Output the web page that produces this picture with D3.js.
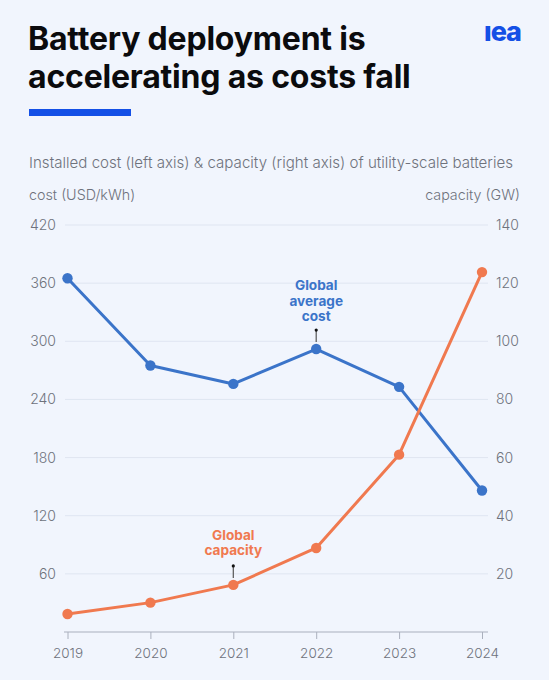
<!DOCTYPE html>
<html>
<head>
<meta charset="utf-8">
<script src="https://cdn.jsdelivr.net/npm/d3@7"></script>
<style>
  html, body { margin: 0; padding: 0; background: #f1f5fd; }
  svg { display: block; font-family: Inter, "Noto Sans", sans-serif; }
</style>
</head>
<body>
<svg id="chart" width="549" height="680"></svg>
<script>
// chart data
const years = [2019, 2020, 2021, 2022, 2023, 2024];
const costUsdPerKwh = [365, 275, 256, 292, 253, 146];
const capacityGw = [6.2, 10.1, 16.2, 28.9, 61, 123.8];
const costTicks = [60, 120, 180, 240, 300, 360, 420];
const capacityTicks = [20, 40, 60, 80, 100, 120, 140];

const blue = '#3b74c9';
const orange = '#f0794f';
const grey = '#6e727c';

const svg = d3.select('#chart');
const margin = { top: 225, right: 61, bottom: 48, left: 65 };
const width = 549 - margin.left - margin.right;
const height = 680 - margin.top - margin.bottom;

// header
svg.append('text')
  .attr('x', 28).attr('y', 50)
  .attr('font-size', 32).attr('font-weight', 700).attr('fill', '#0b0b0d')
  .attr('letter-spacing', -0.2)
  .text('Battery deployment is');
svg.append('text')
  .attr('x', 28).attr('y', 88)
  .attr('font-size', 32).attr('font-weight', 700).attr('fill', '#0b0b0d')
  .attr('letter-spacing', -0.2)
  .text('accelerating as costs fall');
svg.append('rect')
  .attr('x', 29).attr('y', 109).attr('width', 102).attr('height', 7)
  .attr('fill', '#1450e6');
svg.append('text')
  .attr('x', 521).attr('y', 41).attr('text-anchor', 'end')
  .attr('font-size', 27).attr('font-weight', 800).attr('fill', '#1450e6')
  .attr('letter-spacing', -1)
  .text('ıea');

svg.append('text')
  .attr('x', 29).attr('y', 168)
  .attr('font-size', 15.1).attr('font-weight', 300).attr('fill', grey)
  .text('Installed cost (left axis) & capacity (right axis) of utility-scale batteries');
svg.append('text')
  .attr('x', 29).attr('y', 200)
  .attr('font-size', 14.3).attr('font-weight', 300).attr('fill', grey)
  .text('cost (USD/kWh)');
svg.append('text')
  .attr('x', 520).attr('y', 200).attr('text-anchor', 'end')
  .attr('font-size', 14.3).attr('font-weight', 300).attr('fill', grey)
  .text('capacity (GW)');

const g = svg.append('g')
  .attr('transform', `translate(${margin.left},${margin.top})`);

const x = d3.scalePoint()
  .domain(years)
  .range([2.5, width - 6]);

const yCost = d3.scaleLinear()
  .domain([0, 420])
  .range([height, 0]);

const yCap = d3.scaleLinear()
  .domain([0, 140])
  .range([height, 0]);

// gridlines
g.append('g')
  .selectAll('line')
  .data(costTicks)
  .enter().append('line')
  .attr('x1', 0).attr('x2', width)
  .attr('y1', d => yCost(d)).attr('y2', d => yCost(d))
  .attr('stroke', '#dfe5f1').attr('stroke-width', 1);

// left axis labels
g.append('g')
  .selectAll('text')
  .data(costTicks)
  .enter().append('text')
  .attr('x', -9).attr('y', d => yCost(d)).attr('dy', '0.36em')
  .attr('text-anchor', 'end')
  .attr('font-size', 14).attr('font-weight', 300).attr('fill', grey)
  .text(d => d);

// right axis labels
g.append('g')
  .selectAll('text')
  .data(capacityTicks)
  .enter().append('text')
  .attr('x', width + 8).attr('y', d => yCap(d)).attr('dy', '0.36em')
  .attr('font-size', 14).attr('font-weight', 300).attr('fill', grey)
  .text(d => d);

// x axis
const xAxis = g.append('g')
  .attr('transform', `translate(0,${height})`)
  .call(d3.axisBottom(x).tickSize(7).tickPadding(9).tickSizeOuter(0));
xAxis.select('.domain')
  .attr('d', `M-1,0H${width}`)
  .attr('stroke', '#aab0bd').attr('stroke-width', 1.2);
xAxis.selectAll('.tick line').attr('stroke', '#aab0bd');
xAxis.selectAll('.tick text')
  .attr('font-family', 'Inter, "Noto Sans", sans-serif')
  .attr('font-size', 13.5).attr('font-weight', 300).attr('fill', grey);

// series
const series = [
  { name: 'cost', values: costUsdPerKwh, y: yCost, color: blue },
  { name: 'capacity', values: capacityGw, y: yCap, color: orange },
];

series.forEach(s => {
  const pts = years.map((yr, i) => [x(yr), s.y(s.values[i])]);
  g.append('path')
    .attr('d', d3.line()(pts))
    .attr('fill', 'none')
    .attr('stroke', s.color)
    .attr('stroke-width', 3)
    .attr('stroke-linejoin', 'round');
  g.append('g')
    .selectAll('circle')
    .data(pts)
    .enter().append('circle')
    .attr('cx', d => d[0]).attr('cy', d => d[1])
    .attr('r', 5.2)
    .attr('fill', s.color);
});

// annotations
function annotate(year, yPos, lines, color, gap) {
  const ax = x(year);
  g.append('line')
    .attr('x1', ax).attr('x2', ax)
    .attr('y1', yPos - 19).attr('y2', yPos - 7)
    .attr('stroke', '#555').attr('stroke-width', 1.2);
  g.append('circle')
    .attr('cx', ax).attr('cy', yPos - 19).attr('r', 1.6).attr('fill', '#111');
  const t = g.append('text')
    .attr('text-anchor', 'middle')
    .attr('font-size', 13.6).attr('font-weight', 700).attr('fill', color);
  lines.forEach((l, i) => {
    t.append('tspan')
      .attr('x', ax)
      .attr('y', yPos - gap - (lines.length - 1 - i) * 15.4)
      .text(l);
  });
}
annotate(2022, yCost(costUsdPerKwh[3]), ['Global', 'average', 'cost'], blue, 28);
annotate(2021, yCap(capacityGw[2]), ['Global', 'capacity'], orange, 30);
</script>
</body>
</html>
